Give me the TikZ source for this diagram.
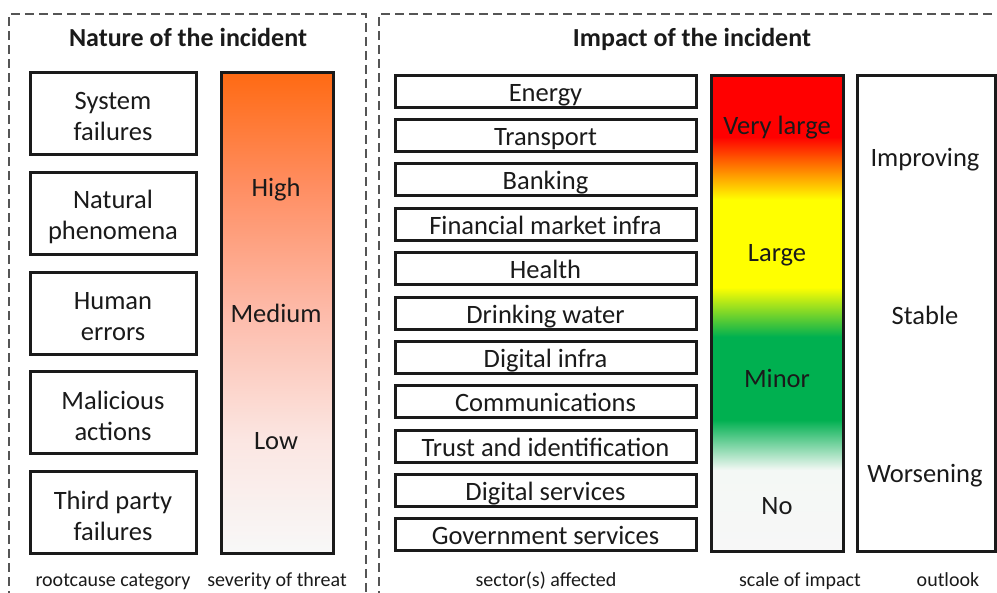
\documentclass[tikz,border=0pt]{standalone}
\usepackage{fontspec}
\setmainfont{Carlito}
\definecolor{boxline}{HTML}{1A1A1A}
\definecolor{txt}{HTML}{1A1A1A}
\definecolor{framegray}{HTML}{555555}
\definecolor{sevA}{HTML}{F8F8F8}
\definecolor{sevB}{HTML}{FBE6E2}
\definecolor{sevC}{HTML}{FDBBAA}
\definecolor{sevD}{HTML}{FF8E62}
\definecolor{sevE}{HTML}{FF6A13}
\definecolor{scA}{HTML}{F7F7F7}
\definecolor{scB}{HTML}{F4F8F5}
\definecolor{scC}{HTML}{00B050}
\definecolor{scD}{HTML}{FFFF00}
\definecolor{scE}{HTML}{FF0000}
\pgfdeclareverticalshading{severity}{100bp}{color(0bp)=(sevA); color(25bp)=(sevA); color(36.9bp)=(sevB); color(50.05bp)=(sevC); color(63.15bp)=(sevD); color(75bp)=(sevE); color(100bp)=(sevE)}
\pgfdeclareverticalshading{impactscale}{100bp}{color(0bp)=(scA); color(25bp)=(scA); color(33.6bp)=(scB); color(38.9bp)=(scC); color(47.6bp)=(scC); color(52.8bp)=(scD); color(62bp)=(scD); color(68.6bp)=(scE); color(75bp)=(scE); color(100bp)=(scE)}
\newcommand{\dnline}[1]{\raisebox{-3pt}[\height][\depth]{#1}}
\tikzset{
  catbox/.style={draw=boxline, line width=3pt, minimum width=166pt, minimum height=82pt, align=center, inner sep=0pt, font=\fontsize{26.5}{31}\selectfont, text=txt},
  secbox/.style={draw=boxline, line width=3pt, minimum width=301pt, minimum height=32pt, inner sep=0pt, text height=24pt, text depth=5pt, font=\fontsize{26.5}{30}\selectfont, text=txt},
  barbox/.style={draw=boxline, line width=3pt, inner sep=0pt},
  lbl/.style={inner sep=0pt, text height=24pt, text depth=5pt, font=\fontsize{26.5}{30}\selectfont, text=txt},
  capt/.style={inner sep=0pt, text height=17pt, text depth=4pt, font=\fontsize{20}{24}\selectfont, text=txt},
  ttl/.style={inner sep=0pt, text height=20pt, text depth=5pt, font=\bfseries\fontsize{26}{30}\selectfont, text=txt},
  framestyle/.style={draw=framegray, line width=1.3pt, dash pattern=on 9pt off 5pt}
}
\begin{document}
\begin{tikzpicture}[x=1pt,y=-1pt]
\useasboundingbox (0,0) rectangle (997,593);
% frames
\draw[framestyle] (9,600) -- (9,14) -- (366,14) -- (366,600);
\draw[framestyle] (379,600) -- (379,14) -- (1005,14);
% titles
\node[ttl] (t1) at (188,39) {Nature of the incident};
\node[ttl] (t2) at (692,39) {Impact of the incident};
% root cause boxes
\node[catbox] (c1) at (113,114) {\dnline{System}\\\dnline{failures}};
\node[catbox] (c2) at (113,214) {\dnline{Natural}\\\dnline{phenomena}};
\node[catbox] (c3) at (113,314) {\dnline{Human}\\\dnline{errors}};
\node[catbox] (c4) at (113,413) {\dnline{Malicious}\\\dnline{actions}};
\node[catbox] (c5) at (113,513) {\dnline{Third party}\\\dnline{failures}};
% severity bar
\node[barbox, shading=severity, minimum width=112pt, minimum height=481pt] (sev) at (277,313.5) {};
\node[lbl] (sh) at (276,187) {High};
\node[lbl] (sm) at (276,313) {Medium};
\node[lbl] (sl) at (276,440) {Low};
% sectors
\node[secbox] (s1) at (545.5,92) {Energy};
\node[secbox] (s2) at (545.5,136) {Transport};
\node[secbox] (s3) at (545.5,180) {Banking};
\node[secbox] (s4) at (545.5,225) {Financial market infra};
\node[secbox] (s5) at (545.5,269) {Health};
\node[secbox] (s6) at (545.5,314) {Drinking water};
\node[secbox] (s7) at (545.5,358) {Digital infra};
\node[secbox] (s8) at (545.5,402) {Communications};
\node[secbox] (s9) at (545.5,447) {Trust and identification};
\node[secbox] (s10) at (545.5,491) {Digital services};
\node[secbox] (s11) at (545.5,535) {Government services};
% impact scale
\node[barbox, shading=impactscale, minimum width=132pt, minimum height=476pt] (sc) at (777,314) {};
\node[lbl] (v1) at (777,125) {Very large};
\node[lbl] (v2) at (777,252) {Large};
\node[lbl] (v3) at (777,378) {Minor};
\node[lbl] (v4) at (777,505) {No};
% outlook
\node[barbox, minimum width=138pt, minimum height=476pt] (ol) at (926,314) {};
\node[lbl] (o1) at (925,157) {Improving};
\node[lbl] (o2) at (925,315) {Stable};
\node[lbl] (o3) at (925,473) {Worsening};
% captions
\node[capt] (k1) at (113,580) {rootcause category};
\node[capt] (k2) at (277,580) {severity of threat};
\node[capt] (k3) at (546,580) {sector(s) affected};
\node[capt] (k4) at (800,580) {scale of impact};
\node[capt] (k5) at (948,580) {outlook};
\end{tikzpicture}
\end{document}
